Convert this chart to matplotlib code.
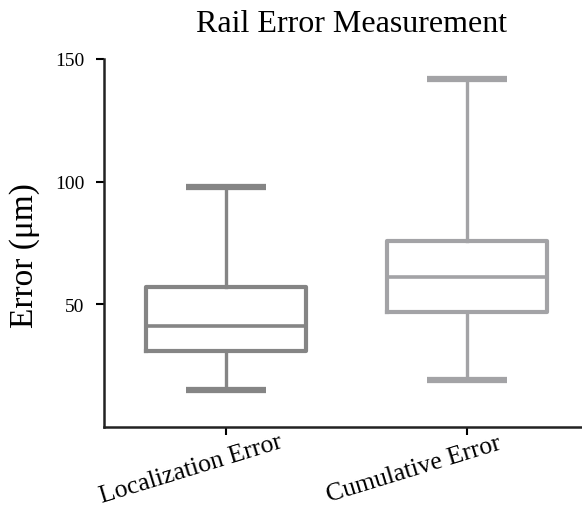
import matplotlib
matplotlib.use("Agg")
import matplotlib.pyplot as plt
from matplotlib.transforms import ScaledTranslation

# box statistics per group (whisker low, q1, median, q3, whisker high), in µm
groups = ["Localization Error", "Cumulative Error"]
whislo = [15.0, 19.0]
q1 = [31.0, 47.0]
med = [41.0, 61.0]
q3 = [57.0, 76.0]
whishi = [98.0, 142.0]
colors = ["#858585", "#a3a3a6"]

plt.rcParams["font.family"] = ["Liberation Serif", "DejaVu Serif"]

fig = plt.figure(figsize=(5.82, 5.10), dpi=100)
ax = fig.add_axes([104 / 582, 1 - 428 / 510, 478 / 582, 368 / 510])

stats = []
for i, name in enumerate(groups):
    stats.append({"label": name, "whislo": whislo[i], "q1": q1[i], "med": med[i],
                  "q3": q3[i], "whishi": whishi[i], "fliers": []})

positions = [1, 2]
for i, s in enumerate(stats):
    c = colors[i]
    ax.bxp([s], positions=[positions[i]], widths=0.667, showfliers=False,
           capwidths=0.33,
           boxprops=dict(color=c, linewidth=3.0),
           medianprops=dict(color=c, linewidth=2.6),
           whiskerprops=dict(color=c, linewidth=2.4),
           capprops=dict(color=c, linewidth=4.5, solid_capstyle="butt"))

ax.set_xlim(1 - 0.506, 2 + 0.477)
ax.set_ylim(0, 150)
ax.set_yticks([50, 100, 150])
ax.set_xticks(positions)
ax.set_xticklabels(groups, rotation=17, rotation_mode="anchor", ha="center", va="center")
ax.tick_params(axis="y", labelsize=14, length=6, width=1.5, pad=8, direction="out")
ax.tick_params(axis="x", labelsize=18.5, length=6, width=1.5, pad=24, direction="out")

# shift each category label left of its tick
for lab, dx in zip(ax.get_xticklabels(), [-35, -53]):
    lab.set_transform(lab.get_transform() + ScaledTranslation(dx / 100, 0, fig.dpi_scale_trans))

for side in ["top", "right"]:
    ax.spines[side].set_visible(False)
for side in ["left", "bottom"]:
    ax.spines[side].set_linewidth(1.8)
    ax.spines[side].set_color("#222222")

fig.text(25 / 582, 1 - 256 / 510, "Error (μm)", rotation=90, fontsize=24,
         ha="center", va="center")
fig.text(352 / 582, 1 - 25 / 510, "Rail Error Measurement", fontsize=23,
         ha="center", va="center")

fig.savefig("out.png", dpi=100)
